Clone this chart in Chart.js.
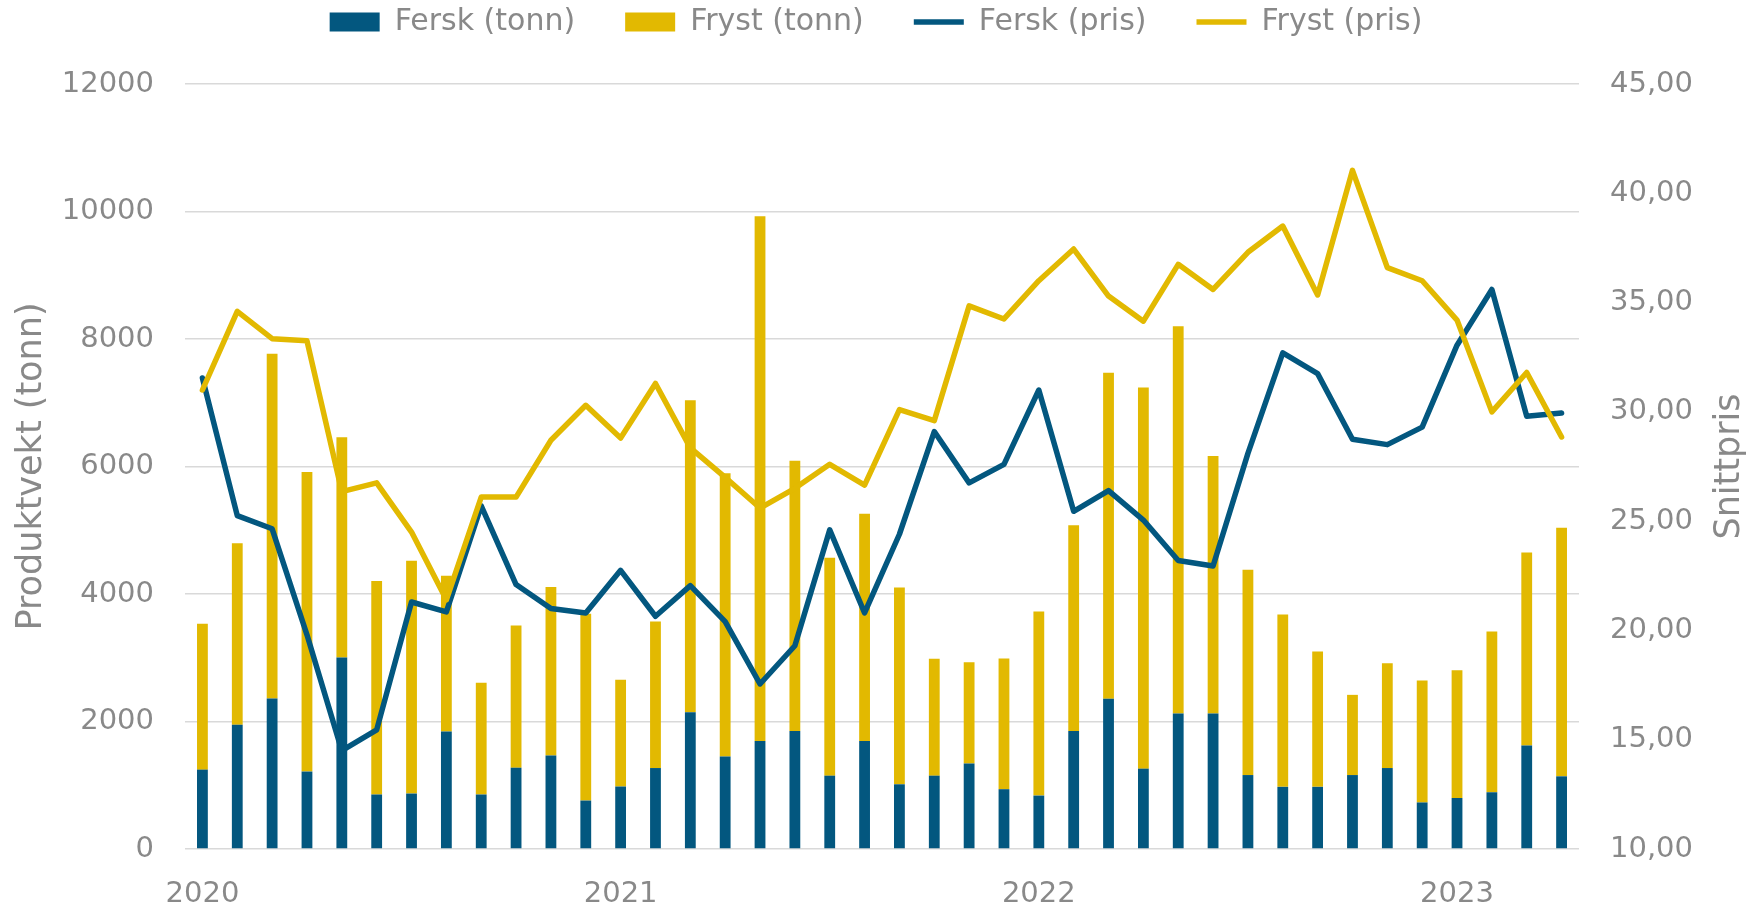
<!DOCTYPE html>
<html>
<head>
<meta charset="utf-8">
<script src="https://cdn.jsdelivr.net/npm/chart.js@4.4.1/dist/chart.umd.min.js"></script>
<style>
    body { margin: 0; background: #ffffff; }
    #wrap { width: 1752px; height: 906px; position: relative; }
</style>
</head>
<body>
<div id="wrap"><canvas id="exportChart"></canvas></div>
<script>
const months = [
    '2020-01', '2020-02', '2020-03', '2020-04', '2020-05', '2020-06', '2020-07', '2020-08', '2020-09', '2020-10', '2020-11', '2020-12',
    '2021-01', '2021-02', '2021-03', '2021-04', '2021-05', '2021-06', '2021-07', '2021-08', '2021-09', '2021-10', '2021-11', '2021-12',
    '2022-01', '2022-02', '2022-03', '2022-04', '2022-05', '2022-06', '2022-07', '2022-08', '2022-09', '2022-10', '2022-11', '2022-12',
    '2023-01', '2023-02', '2023-03', '2023-04'
];

const ferskTonn = [1245, 1950, 2360, 1215, 3005, 855, 870, 1845, 855, 1275, 1465, 760,
    980, 1270, 2145, 1452, 1693, 1852, 1150, 1693, 1015, 1150, 1340, 938,
    838, 1850, 2355, 1260, 2125, 2125, 1160, 975, 975, 1160, 1270, 730,
    800, 890, 1625, 1140];

const frystTonn = [2290, 2845, 5410, 4700, 3455, 3350, 3650, 2440, 1753, 2230, 2645, 2930,
    1675, 2300, 4895, 4443, 8232, 4238, 3420, 3564, 3086, 1833, 1590, 2052,
    2887, 3230, 5115, 5980, 6075, 4040, 3220, 2703, 2125, 1258, 1642, 1912,
    2005, 2522, 3027, 3900];

const ferskPris = [31.55, 25.25, 24.65, 19.8, 14.5, 15.45, 21.3, 20.85, 25.7, 22.1, 21.0, 20.8,
    22.75, 20.65, 22.05, 20.4, 17.55, 19.3, 24.6, 20.8, 24.4, 29.1, 26.75, 27.6,
    31.0, 25.45, 26.4, 25.05, 23.2, 22.95, 28.1, 32.7, 31.75, 28.75, 28.5, 29.3,
    33.05, 35.6, 29.8, 29.95];

const frystPris = [31.0, 34.6, 33.35, 33.25, 26.35, 26.75, 24.5, 21.4, 26.1, 26.1, 28.7, 30.3,
    28.8, 31.3, 28.35, 27.0, 25.6, 26.5, 27.6, 26.65, 30.1, 29.6, 34.85, 34.25,
    36.0, 37.45, 35.3, 34.15, 36.75, 35.6, 37.3, 38.5, 35.35, 41.05, 36.6, 36.0,
    34.2, 30.0, 31.8, 28.85];

const tonnTicks = [0, 12000, 2000];   // min, max, step
const prisTicks = [10, 45, 5];

const FERSK_COLOR = "#03577f";
const FRYST_COLOR = "#e2b901";
const TEXT_COLOR = "#898989";
const FONT = "'DejaVu Sans', sans-serif";

// Right axis title reads bottom-to-top, like the left one
const rightTitlePlugin = {
    id: 'rightTitle',
    afterDraw(chart) {
        const { ctx, chartArea: { top, bottom } } = chart;
        ctx.save();
        ctx.translate(chart.width - 22, (top + bottom) / 2);
        ctx.rotate(-Math.PI / 2);
        ctx.font = "35px " + FONT;
        ctx.fillStyle = TEXT_COLOR;
        ctx.textAlign = "center";
        ctx.textBaseline = "middle";
        ctx.fillText("Snittpris", 0, 0);
        ctx.restore();
    }
};

function drawExportChart() {
    Chart.defaults.font.family = FONT;
    Chart.defaults.color = TEXT_COLOR;

    const ctx = document.getElementById('exportChart').getContext('2d');
    new Chart(ctx, {
        type: 'bar',
        data: {
            labels: months,
            datasets: [
                {
                    label: 'Fersk (tonn)',
                    data: ferskTonn,
                    backgroundColor: FERSK_COLOR,
                    pointStyle: 'rect',
                    barPercentage: 0.31,
                    categoryPercentage: 1,
                    yAxisID: 'y',
                    order: 3
                },
                {
                    label: 'Fryst (tonn)',
                    data: frystTonn,
                    backgroundColor: FRYST_COLOR,
                    pointStyle: 'rect',
                    barPercentage: 0.31,
                    categoryPercentage: 1,
                    yAxisID: 'y',
                    order: 3
                },
                {
                    type: 'line',
                    label: 'Fersk (pris)',
                    data: ferskPris,
                    borderColor: FERSK_COLOR,
                    backgroundColor: FERSK_COLOR,
                    borderWidth: 5.5,
                    borderCapStyle: 'round',
                    borderJoinStyle: 'round',
                    pointStyle: 'line',
                    pointRadius: 0,
                    tension: 0,
                    yAxisID: 'y1',
                    order: 2
                },
                {
                    type: 'line',
                    label: 'Fryst (pris)',
                    data: frystPris,
                    borderColor: FRYST_COLOR,
                    backgroundColor: FRYST_COLOR,
                    borderWidth: 5.5,
                    borderCapStyle: 'round',
                    borderJoinStyle: 'round',
                    pointStyle: 'line',
                    pointRadius: 0,
                    tension: 0,
                    yAxisID: 'y1',
                    order: 1
                }
            ]
        },
        options: {
            responsive: true,
            maintainAspectRatio: false,
            animation: false,
            layout: { padding: { top: -43, left: 0, right: 0, bottom: 0 } },
            plugins: {
                tooltip: { enabled: false },
                legend: {
                    position: 'top',
                    labels: {
                        usePointStyle: true,
                        pointStyleWidth: 50,
                        boxHeight: 19,
                        padding: 50,
                        color: TEXT_COLOR,
                        font: { size: 30 },
                        sort: (a, b) => a.datasetIndex - b.datasetIndex
                    }
                }
            },
            scales: {
                x: {
                    stacked: true,
                    grid: { display: false },
                    border: { display: false },
                    ticks: {
                        autoSkip: false,
                        maxRotation: 0,
                        padding: 20,
                        font: { size: 29 },
                        callback: function (value) {
                            const m = months[value];
                            return m.endsWith('-01') ? m.slice(0, 4) : '';
                        }
                    },
                    afterFit: (scale) => { scale.height = 57; }
                },
                // empty spacer between legend and plot
                xTop: {
                    position: 'top',
                    grid: { display: false },
                    border: { display: false },
                    ticks: { display: false },
                    afterFit: (scale) => { scale.height = 37; }
                },
                y: {
                    stacked: true,
                    position: 'left',
                    min: tonnTicks[0],
                    max: tonnTicks[1],
                    grid: { color: '#d9d9d9', lineWidth: 1.5, drawTicks: false },
                    border: { display: false },
                    ticks: {
                        stepSize: tonnTicks[2],
                        padding: 31,
                        font: { size: 29 },
                        callback: (v) => String(v)
                    },
                    title: {
                        display: true,
                        text: 'Produktvekt (tonn)',
                        color: TEXT_COLOR,
                        font: { size: 35 },
                        padding: { top: 11, bottom: 0 }
                    },
                    afterFit: (scale) => { scale.width = 185; }
                },
                y1: {
                    position: 'right',
                    min: prisTicks[0],
                    max: prisTicks[1],
                    grid: { display: false, drawTicks: false },
                    border: { display: false },
                    ticks: {
                        stepSize: prisTicks[2],
                        padding: 31,
                        font: { size: 29 },
                        callback: (v) => v.toFixed(2).replace('.', ',')
                    },
                    afterFit: (scale) => { scale.width = 173; }
                }
            }
        },
        plugins: [rightTitlePlugin]
    });
}

drawExportChart();
</script>
</body>
</html>
